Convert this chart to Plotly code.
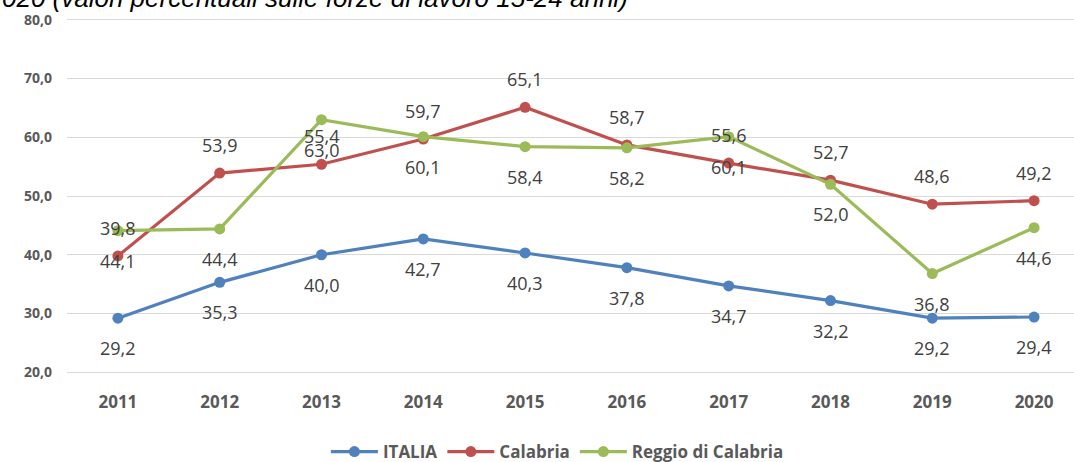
import plotly.graph_objects as go

years = ["2011", "2012", "2013", "2014", "2015", "2016", "2017", "2018", "2019", "2020"]
italia = [29.2, 35.3, 40.0, 42.7, 40.3, 37.8, 34.7, 32.2, 29.2, 29.4]
calabria = [39.8, 53.9, 55.4, 59.7, 65.1, 58.7, 55.6, 52.7, 48.6, 49.2]
reggio = [44.1, 44.4, 63.0, 60.1, 58.4, 58.2, 60.1, 52.0, 36.8, 44.6]
y_ticks = [20, 30, 40, 50, 60, 70, 80]
title_text = "020 (valori percentuali sulle forze di lavoro 15-24 anni)"

series = [
    ("ITALIA", italia, "#4F81BD", -30),
    ("Calabria", calabria, "#C0504D", 28),
    ("Reggio di Calabria", reggio, "#9BBB59", -30),
]

fig = go.Figure()
annotations = []
for name, vals, color, shift in series:
    fig.add_trace(go.Scatter(
        x=list(range(len(years))), y=vals, name=name, mode="lines+markers",
        line=dict(color=color, width=3.2),
        marker=dict(color=color, size=11),
    ))
    for i, v in enumerate(vals):
        annotations.append(dict(
            x=i, y=v, xref="x", yref="y", text=f"{v:.1f}".replace(".", ","),
            showarrow=False, yshift=shift,
            font=dict(family="Open Sans", size=18, color="#404040"),
        ))

annotations.append(dict(
    x=-67 / 1007, y=1 + 3 / 356, xref="paper", yref="paper",
    xanchor="left", yanchor="bottom", text="<i>" + title_text + "</i>",
    showarrow=False, font=dict(family="Liberation Sans", size=26, color="#000000"),
))

fig.update_layout(
    width=1074, height=462,
    margin=dict(l=67, r=0, t=18, b=88, autoexpand=False),
    paper_bgcolor="white", plot_bgcolor="white",
    separators=",.",
    showlegend=True,
    legend=dict(orientation="h", x=0.487, xanchor="center",
                yref="container", y=(462 - 452) / 462, yanchor="middle",
                font=dict(family="Open Sans", size=17, color="#595959", weight="bold"),
                itemwidth=47, tracegroupgap=0),
    annotations=annotations,
    xaxis=dict(
        range=[-0.5, 9.392], tickmode="array", automargin=False,
        tickvals=list(range(len(years))), ticktext=years,
        showgrid=False, zeroline=False, showline=False,
        ticklabelstandoff=16,
        tickfont=dict(family="Open Sans", size=17, color="#595959", weight="bold"),
    ),
    yaxis=dict(
        range=[19.7, 80.3], tickvals=y_ticks, tickformat=".1f", automargin=False,
        showgrid=True, gridcolor="#D9D9D9", gridwidth=1.3,
        zeroline=False, showline=False,
        ticklabelstandoff=14,
        tickfont=dict(family="Open Sans", size=14, color="#595959", weight="bold"),
    ),
)

fig.write_html(
    "out.html",
    config={"displayModeBar": False},
    post_script="document.body.style.margin='0';document.body.style.overflow='hidden';",
)
